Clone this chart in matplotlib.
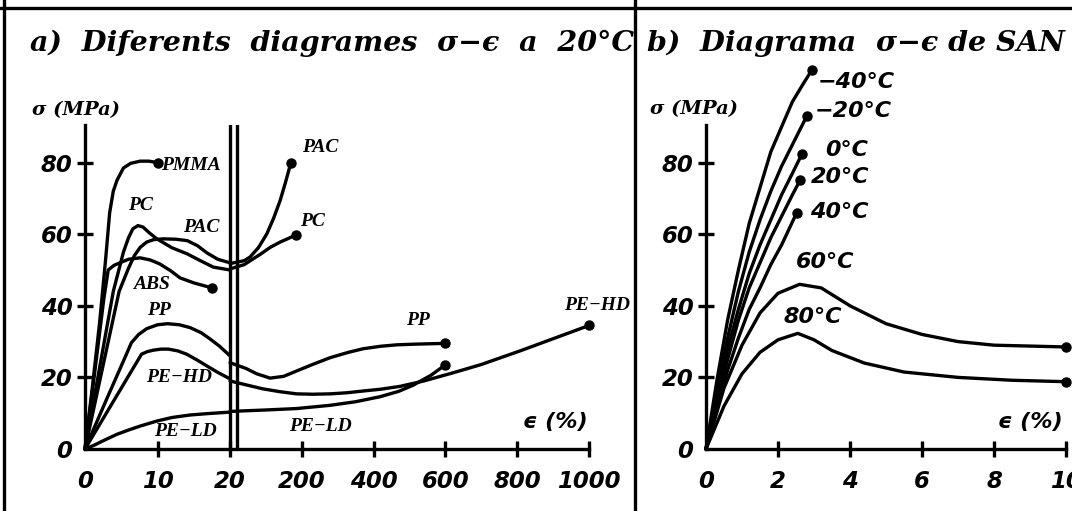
import numpy as np
import matplotlib
matplotlib.use("Agg")
import matplotlib.pyplot as plt
from matplotlib.lines import Line2D

# ---------------- a) stress-strain curves at 20 C ----------------
# left part: strain 0..20 %, right part: strain 20..1000 % (broken axis)
pmma_x = [0, 1.0, 2.0, 2.8, 3.4, 3.9, 4.4, 5.3, 6.3, 7.6, 8.8, 10.0]
pmma_y = [0, 17, 35, 52, 66, 72, 75, 78.5, 79.8, 80.4, 80.4, 80]

pc_x = [0, 3.9, 5.3, 6.0, 6.6, 7.3, 8.0, 8.8, 9.9, 12, 14.1, 16, 17.7, 20]
pc_y = [0, 44, 55, 59, 61.5, 62.4, 62, 60.5, 58.7, 56.2, 54.5, 52.5, 50.8, 50]
pc2_x = [20, 40, 60, 85, 112, 140, 165, 183]
pc2_y = [50.3, 51.5, 52.8, 54.4, 56.3, 57.8, 58.9, 59.8]

pac_x = [0, 4.7, 6.0, 6.8, 7.6, 8.5, 9.5, 10.8, 12.5, 14.1, 15.5, 16.8, 18.3, 20]
pac_y = [0, 44, 50.5, 54, 56.3, 57.8, 58.5, 58.7, 58.6, 58.2, 56.8, 54.8, 53, 52]
pac2_x = [20, 40, 56, 80, 103, 122, 140, 155, 170]
pac2_y = [51.8, 52.6, 53.6, 56.3, 60.1, 64.5, 69.4, 74.5, 80]

abs_x = [0, 1.5, 2.6, 3.2, 4.0, 4.8, 6.0, 7.6, 9.0, 10.3, 11.8, 13.1, 15, 17.5]
abs_y = [0, 24, 42, 50, 51.3, 52, 53, 53.4, 52.8, 51.7, 49.8, 47.8, 46.4, 45]

pp_x = [0, 3, 5.5, 6.4, 7.4, 8.5, 10, 11.4, 13, 14.5, 16, 17.2, 18.5, 20]
pp_y = [0, 14, 25.5, 29.7, 32, 33.6, 34.7, 35, 34.7, 33.9, 32.5, 30.8, 28.8, 26]
pp2_x = [20, 45, 75, 112, 150, 186, 230, 279, 330, 371, 420, 465, 520, 560, 600]
pp2_y = [24.1, 22.5, 21, 19.8, 20.3, 21.8, 23.6, 25.5, 27, 28, 28.7, 29.1, 29.3, 29.4, 29.5]

pehd_x = [0, 3, 6, 7.8, 8.6, 9.4, 10.5, 11.5, 12.8, 14, 15.5, 16.8, 18.3, 19.8]
pehd_y = [0, 10.2, 20.4, 26.5, 27.2, 27.6, 27.9, 27.9, 27.4, 26.5, 24.8, 23.2, 21.4, 19.8]
pehd2_x = [20, 50, 92, 140, 186, 230, 279, 325, 371, 420, 474, 540, 622, 700, 808, 900, 1000]
pehd2_y = [19, 17.8, 16.8, 16, 15.4, 15.3, 15.4, 15.7, 16.2, 16.7, 17.5, 19, 21.3, 23.6, 27.4, 30.8, 34.5]

peld_x = [0, 1.2, 2.5, 4.4, 6, 7.6, 9.9, 12, 14.5, 17, 20]
peld_y = [0, 1.0, 2.3, 4.1, 5.3, 6.4, 7.8, 8.8, 9.5, 9.9, 10.3]
peld2_x = [20, 100, 186, 279, 350, 418, 470, 510, 560, 600]
peld2_y = [10.5, 10.9, 11.3, 12.2, 13.2, 14.6, 16.1, 17.8, 20.6, 23.5]

a_xticks = [0, 10, 20, 200, 400, 600, 800, 1000]
a_yticks = [0, 20, 40, 60, 80]

# ---------------- b) SAN at several temperatures ----------------
san_temps = ["\u221240\u00b0C", "\u221220\u00b0C", "0\u00b0C", "20\u00b0C", "40\u00b0C", "60\u00b0C", "80\u00b0C"]
san_x = [
    [0, 0.3, 0.6, 0.9, 1.2, 1.5, 1.8, 2.1, 2.4, 2.7, 2.95],
    [0, 0.3, 0.6, 0.9, 1.2, 1.5, 1.8, 2.1, 2.4, 2.8],
    [0, 0.3, 0.6, 0.9, 1.2, 1.5, 1.8, 2.1, 2.4, 2.67],
    [0, 0.3, 0.6, 0.9, 1.2, 1.5, 1.8, 2.1, 2.4, 2.61],
    [0, 0.3, 0.6, 0.9, 1.2, 1.5, 1.8, 2.1, 2.52],
    [0, 0.5, 1.0, 1.5, 2.0, 2.6, 3.2, 4.0, 5.0, 6.0, 7.0, 8.0, 10],
    [0, 0.5, 1.0, 1.5, 2.0, 2.55, 3.0, 3.5, 4.4, 5.5, 7.0, 8.5, 10],
]
san_y = [
    [0, 19, 36, 50, 63, 73, 83, 90, 97, 102, 106],
    [0, 16, 31, 44, 55, 64, 72, 79, 85, 93],
    [0, 14, 28, 39, 49, 57, 64, 71, 77, 82.5],
    [0, 13, 25, 36, 45, 52, 59, 65, 71, 75],
    [0, 11, 22, 31, 39, 45, 51.5, 57, 66],
    [0, 17, 29, 38, 43.5, 46, 45, 40, 35, 32, 30, 29, 28.5],
    [0, 12, 21, 27, 30.5, 32.3, 30.5, 27.5, 24, 21.5, 20, 19.2, 18.8],
]
b_xticks = [0, 2, 4, 6, 8, 10]
b_yticks = [0, 20, 40, 60, 80]

W, H = 1072, 511
plt.rcParams['font.family'] = 'DejaVu Sans'
plt.rcParams['font.weight'] = 'bold'
plt.rcParams['font.style'] = 'italic'

title_font = dict(family='DejaVu Serif', size=20.5, weight='bold', style='italic')
lab_font = dict(family='Liberation Serif', size=14, weight='bold', style='italic')
temp_font = dict(family='DejaVu Sans', size=16, weight='bold', style='italic')
LW = 2.4


def fwd(x):
    x = np.asarray(x, dtype=float)
    return np.where(x <= 20, x * 7.25, 144.8 + 0.359 * x)


def inv(p):
    p = np.asarray(p, dtype=float)
    return np.where(p <= 145, p / 7.25, np.maximum((p - 144.8) / 0.359, 20))


def curve(ax, x, y, dot=False):
    ax.plot(x, y, color='k', lw=LW, clip_on=False,
            solid_capstyle='round', solid_joinstyle='round')
    if dot:
        ax.plot(x[-1], y[-1], 'o', color='k', ms=6.5, clip_on=False)


def style_axes(ax, xticks, yticks):
    for s in ['top', 'right']:
        ax.spines[s].set_visible(False)
    for s in ['left', 'bottom']:
        ax.spines[s].set_linewidth(LW)
    ax.set_xticks(xticks)
    ax.set_xticklabels([str(t) for t in xticks])
    ax.set_yticks(yticks)
    ax.set_yticklabels([str(t) for t in yticks])
    ax.tick_params(direction='inout', length=12, width=LW, labelsize=16.5)
    ax.tick_params(axis='x', pad=9)
    ax.tick_params(axis='y', pad=3)
    ax.xaxis.get_major_ticks()[0].tick1line.set_visible(False)
    ax.yaxis.get_major_ticks()[0].tick1line.set_visible(False)
    ax.patch.set_visible(False)


def px(x, y):
    return x / W, 1 - y / H


fig = plt.figure(figsize=(W / 100, H / 100), dpi=100)

# frame lines
for xx in [4, 635]:
    fig.add_artist(Line2D([xx / W, xx / W], [0, 1], color='k', lw=2.4,
                          transform=fig.transFigure))
fig.add_artist(Line2D([0, 1], [1 - 8 / H, 1 - 8 / H], color='k', lw=2.4,
                      transform=fig.transFigure))

# ---------------- panel a ----------------
ax = fig.add_axes([85 / W, (H - 449) / H, 504 / W, 324 / H])
ax.set_xscale('function', functions=(fwd, inv))
ax.set_xlim(0, 1000)
ax.set_ylim(0, 90.5)
style_axes(ax, a_xticks, a_yticks)
ax.axvline(20, color='k', lw=LW)
ax.axvline(20.02, color='k', lw=LW)

curve(ax, pmma_x, pmma_y, dot=True)
curve(ax, pc_x, pc_y)
curve(ax, pc2_x, pc2_y, dot=True)
curve(ax, pac_x, pac_y)
curve(ax, pac2_x, pac2_y, dot=True)
curve(ax, abs_x, abs_y, dot=True)
curve(ax, pp_x, pp_y)
curve(ax, pp2_x, pp2_y, dot=True)
curve(ax, pehd_x, pehd_y)
curve(ax, pehd2_x, pehd2_y, dot=True)
curve(ax, peld_x, peld_y)
curve(ax, peld2_x, peld2_y, dot=True)

for txt, x, y in [("PMMA", 14.6, 79.2), ("PC", 7.7, 68), ("PAC", 16.0, 61.8),
                  ("ABS", 9.2, 45.9), ("PP", 10.2, 38.6), ("PE\u2212HD", 13.0, 19.9),
                  ("PE\u2212LD", 13.9, 5.0), ("PAC", 251, 84.2), ("PC", 231, 63.5),
                  ("PP", 524, 35.8), ("PE\u2212LD", 251, 6.2), ("PE\u2212HD", 1022, 40)]:
    ax.text(x, y, txt, ha='center', va='center', **lab_font)
ax.text(905, 7.6, "\u03f5 (%)", ha='center', va='center', size=16)

fig.text(*px(30, 43), "a)  Diferents  diagrames  \u03c3\u2212\u03f5  a  20\u00b0C", ha='left', va='center', **title_font)
fig.text(*px(76, 110), "\u03c3 (MPa)", ha='center', va='center', family='DejaVu Serif',
         size=14, weight='bold', style='italic')

# ---------------- panel b ----------------
bx = fig.add_axes([706 / W, (H - 449) / H, 360 / W, 324 / H])
bx.set_xlim(0, 10)
bx.set_ylim(0, 90.5)
style_axes(bx, b_xticks, b_yticks)

for i in range(len(san_temps)):
    curve(bx, san_x[i], san_y[i], dot=True)

for txt, x, y in zip(san_temps, [4.17, 4.08, 3.92, 3.72, 3.69, 3.31, 2.97],
                     [102.4, 94.3, 83.4, 75.9, 66.1, 52.2, 36.8]):
    bx.text(x, y, txt, ha='center', va='center', **temp_font)
bx.text(9.0, 7.5, "\u03f5 (%)", ha='center', va='center', size=16)

fig.text(*px(647, 43), "b)  Diagrama  \u03c3\u2212\u03f5 de SAN", ha='left', va='center', **title_font)
fig.text(*px(694, 109), "\u03c3 (MPa)", ha='center', va='center', family='DejaVu Serif',
         size=14, weight='bold', style='italic')

fig.savefig("out.png", dpi=100, facecolor='white')
